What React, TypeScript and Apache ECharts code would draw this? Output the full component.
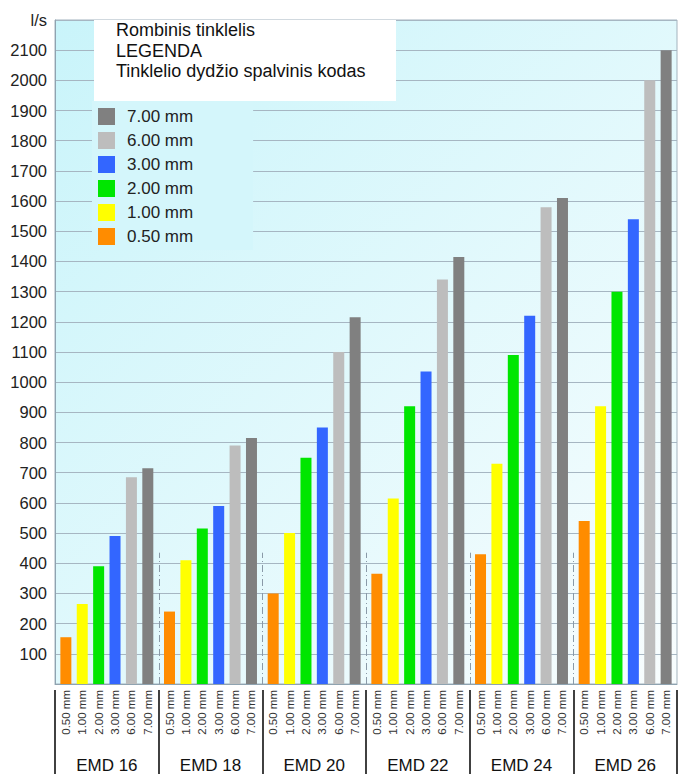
import React, { useEffect, useRef } from 'react';
import * as echarts from 'echarts';

const groups = ['EMD 16', 'EMD 18', 'EMD 20', 'EMD 22', 'EMD 24', 'EMD 26'];
const meshSizes = ['0.50 mm', '1.00 mm', '2.00 mm', '3.00 mm', '6.00 mm', '7.00 mm'];
const mesh050 = [155, 240, 300, 365, 430, 540];
const mesh100 = [265, 410, 500, 615, 730, 920];
const mesh200 = [390, 515, 750, 920, 1090, 1300];
const mesh300 = [490, 590, 850, 1035, 1220, 1540];
const mesh600 = [685, 790, 1100, 1340, 1580, 2000];
const mesh700 = [715, 815, 1215, 1415, 1610, 2100];
const meshValues = [mesh050, mesh100, mesh200, mesh300, mesh600, mesh700];
const meshColors = ['#ff8c00', '#ffff00', '#00e600', '#3366ff', '#bdbdbd', '#808080'];
const legendOrder = ['7.00 mm', '6.00 mm', '3.00 mm', '2.00 mm', '1.00 mm', '0.50 mm'];
const titleLines = ['Rombinis tinklelis', 'LEGENDA', 'Tinklelio dydžio spalvinis kodas'];
const dividerHeights = [435, 435, 435, 435, 435];
const yMin = 0;
const yMax = 2200;
const yStep = 100;
const yUnit = 'l/s';

const FONT = '"Liberation Sans", Arial, Helvetica, sans-serif';

export default function App() {
  const ref = useRef<HTMLDivElement>(null);
  useEffect(() => {
    if (!ref.current) return;
    const chart = echarts.init(ref.current, null, { renderer: 'svg' });
    const barSeries = meshSizes.map((name, i) => ({
      name,
      type: 'bar',
      xAxisIndex: 0,
      yAxisIndex: 0,
      data: meshValues[i],
      barWidth: 11,
      barGap: '49%',
      itemStyle: { color: meshColors[i] },
      label: {
        show: true,
        position: 'bottom',
        distance: 6,
        rotate: 90,
        align: 'right',
        verticalAlign: 'middle',
        formatter: () => name,
        fontSize: 11.5,
        color: '#333',
        fontFamily: FONT,
      },
    }));
    const dividerSeries = {
      type: 'custom',
      xAxisIndex: 0,
      yAxisIndex: 0,
      silent: true,
      data: dividerHeights.map((h, i) => [i, h]),
      renderItem: (params: any, api: any) => {
        const idx = api.value(0);
        const h = api.value(1);
        const base = api.coord([idx, 0]);
        const top = api.coord([idx, h]);
        const w = api.size([1, 0])[0];
        const x = Math.round(base[0] + w / 2) + 0.5;
        return {
          type: 'line',
          shape: { x1: x, y1: base[1], x2: x, y2: top[1] },
          style: { stroke: '#8a9aa8', lineWidth: 1, lineDash: [7, 3, 1, 3] },
        };
      },
    };
    chart.setOption({
      animation: false,
      textStyle: { fontFamily: FONT },
      grid: {
        left: 55,
        right: 1,
        top: 20,
        bottom: 89,
        show: true,
        borderColor: '#a3b3be',
        borderWidth: 1,
        backgroundColor: new echarts.graphic.LinearGradient(0, 0, 1, 1, [
          { offset: 0, color: '#c9f4fa' },
          { offset: 1, color: '#f8fdfe' },
        ]),
      },
      xAxis: [
        {
          type: 'category',
          data: groups,
          axisLine: { show: true, lineStyle: { color: '#8fa3b0', width: 1 } },
          axisTick: { show: false },
          axisLabel: { margin: 73, fontSize: 17, color: '#111', fontFamily: FONT },
          splitLine: { show: false },
        },
        {
          type: 'category',
          data: groups,
          position: 'bottom',
          offset: 6,
          axisLine: { show: false },
          axisTick: { show: true, length: 90, lineStyle: { color: '#111', width: 1.6 } },
          axisLabel: { show: false },
          splitLine: { show: false },
        },
      ],
      yAxis: {
        type: 'value',
        min: yMin,
        max: yMax,
        interval: yStep,
        axisLine: { show: true, lineStyle: { color: '#8fa3b0' } },
        axisTick: { show: false },
        axisLabel: {
          margin: 8,
          fontSize: 16.5,
          color: '#222',
          fontFamily: FONT,
          formatter: (v: number) => (v === yMax ? yUnit : v === yMin ? '' : String(v)),
        },
        splitLine: { show: true, lineStyle: { color: '#a6b6c2', width: 1 } },
      },
      legend: {
        show: true,
        orient: 'vertical',
        left: 92,
        top: 101,
        data: legendOrder,
        icon: 'rect',
        itemWidth: 17,
        itemHeight: 17,
        itemGap: 7,
        padding: [7, 60, 5, 6],
        backgroundColor: '#d4f6fb',
        selectedMode: false,
        textStyle: { fontSize: 17, color: '#222', fontFamily: FONT, padding: [0, 0, 0, 7] },
      },
      graphic: [
        {
          type: 'rect',
          left: 94,
          top: 20,
          shape: { width: 302, height: 81 },
          style: { fill: '#ffffff' },
          z: 10,
        },
        {
          type: 'text',
          left: 116,
          top: 20,
          z: 11,
          style: {
            text: titleLines.join('\n'),
            fontSize: 18,
            lineHeight: 20.5,
            fill: '#111',
            fontFamily: FONT,
          },
        },
      ],
      series: [...barSeries, dividerSeries],
    });
    return () => chart.dispose();
  }, []);
  return (
    <div
      ref={ref}
      style={{ position: 'absolute', left: 0, top: 0, width: 678, height: 774, background: '#fff' }}
    />
  );
}
